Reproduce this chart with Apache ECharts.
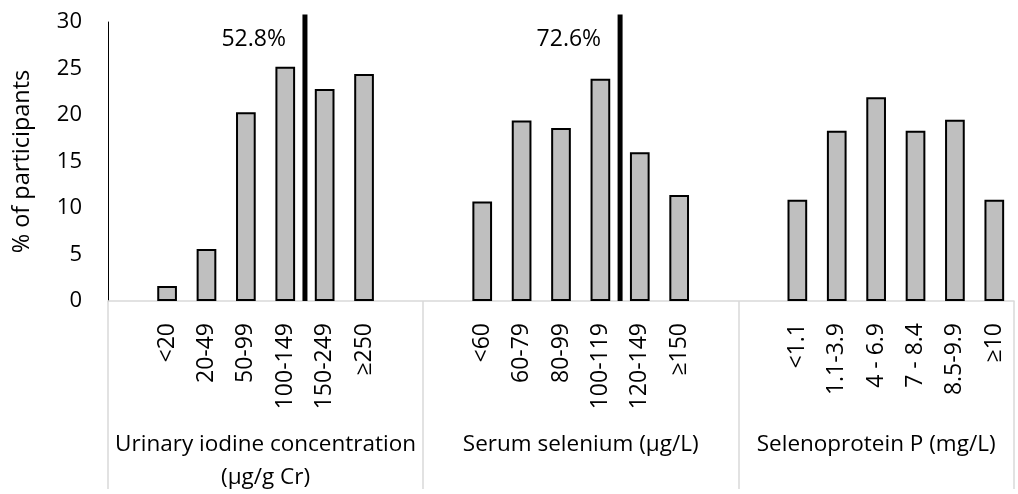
<!DOCTYPE html>
<html><head><meta charset="utf-8">
<script src="https://cdn.jsdelivr.net/npm/echarts@6/dist/echarts.min.js"></script>
<style>html,body{margin:0;padding:0;background:#fff}#c{width:1018px;height:494px}</style>
</head><body><div id="c"></div>
<script>
// ---- data ----
const iodineLabels   = ['<20','20-49','50-99','100-149','150-249','≥250'];
const iodineValues   = [1.6, 5.6, 20.3, 25.2, 22.8, 24.4];
const seleniumLabels = ['<60','60-79','80-99','100-119','120-149','≥150'];
const seleniumValues = [10.7, 19.4, 18.6, 23.9, 16.0, 11.4];
const selenoPLabels  = ['<1.1','1.1-3.9','4 - 6.9','7 - 8.4','8.5-9.9','≥10'];
const selenoPValues  = [10.9, 18.3, 21.9, 18.3, 19.5, 10.9];
const groupNames     = ['Urinary iodine concentration\n(µg/g Cr)', 'Serum selenium (µg/L)', 'Selenoprotein P (mg/L)'];
const groupTrailingBlank = [true, true, false];
const thresholdGroup = [0, 1];          // which group carries a cut-off line
const thresholdAfterItem = [3, 3];      // line drawn after this item of the group
const thresholdLabels = ['52.8%', '72.6%'];
const yAxisTitle = '% of participants';

// ---- build category slots ----
const groupsL = [iodineLabels, seleniumLabels, selenoPLabels];
const groupsV = [iodineValues, seleniumValues, selenoPValues];
const catLabels = [], barData = [], groupStarts = [];
groupsL.forEach((labs, g) => {
  groupStarts.push(catLabels.length);
  catLabels.push(''); barData.push(null);
  labs.forEach((l, i) => { catLabels.push(l); barData.push(groupsV[g][i]); });
  if (groupTrailingBlank[g]) { catLabels.push(''); barData.push(null); }
});
const nCat = catLabels.length;
const boundaries = groupStarts.concat([nCat]);
const groupCenters = groupStarts.map((s, i) => (s + boundaries[i + 1]) / 2);
const thresholdPos = thresholdGroup.map((g, i) => groupStarts[g] + 1 + thresholdAfterItem[i] + 1);

const FONT = 'Open Sans';
const chart = echarts.init(document.getElementById('c'));
const option = {
  animation: false,
  backgroundColor: '#fff',
  textStyle: { fontFamily: FONT, color: '#000' },
  grid: { left: 108, right: 4, top: 22, bottom: 188, containLabel: false },
  xAxis: [
    {
      type: 'category',
      data: catLabels.map((_, i) => 'c' + i),
      boundaryGap: true,
      axisLine: { show: true, lineStyle: { color: '#d9d9d9', width: 1.5 } },
      axisTick: { show: false },
      axisLabel: {
        interval: 0, rotate: 90, margin: 22,
        fontSize: 23, color: '#000', fontFamily: FONT,
        formatter: (v, i) => catLabels[i]
      },
      splitLine: { show: false }
    },
    {
      type: 'value', position: 'bottom', min: 0, max: nCat,
      axisLine: { show: false },
      axisTick: { show: true, customValues: boundaries, length: 188, lineStyle: { color: '#d9d9d9', width: 1.5 } },
      axisLabel: {
        show: true, customValues: groupCenters, margin: 127,
        fontSize: 22.5, lineHeight: 33, color: '#000', fontFamily: FONT, verticalAlign: 'top',
        formatter: v => { const k = groupCenters.indexOf(v); return k >= 0 ? groupNames[k] : ''; }
      },
      splitLine: { show: false }
    }
  ],
  yAxis: {
    type: 'value', min: 0, max: 30, interval: 5,
    name: yAxisTitle, nameLocation: 'middle', nameRotate: 90, nameGap: 74,
    nameTextStyle: { fontSize: 23.5, color: '#000', fontFamily: FONT },
    axisLine: { show: true, lineStyle: { color: '#000', width: 1 } },
    axisTick: { show: false },
    axisLabel: { fontSize: 22, color: '#000', margin: 26, fontFamily: FONT },
    splitLine: { show: false }
  },
  series: [
    {
      type: 'bar', xAxisIndex: 0, data: barData, barWidth: '50%',
      itemStyle: { color: '#bfbfbf', borderColor: '#000', borderWidth: 2 }
    },
    ...thresholdPos.map((p, i) => ({
      type: 'line', xAxisIndex: 1, clip: false, symbol: 'none', silent: true,
      data: [[p, 0], [p, 30.8]],
      lineStyle: { color: '#000', width: 5 }, z: 5
    })),
    {
      type: 'scatter', xAxisIndex: 1, clip: false, symbolSize: 0, silent: true,
      itemStyle: { opacity: 1 },
      data: thresholdPos.map((p, i) => ({ value: [p, 28.1], name: thresholdLabels[i] })),
      label: { show: true, position: 'left', distance: 19, formatter: '{b}', fontSize: 23, color: '#000', opacity: 1, fontFamily: FONT }
    }
  ]
};
chart.setOption(option);
</script>
</body></html>
